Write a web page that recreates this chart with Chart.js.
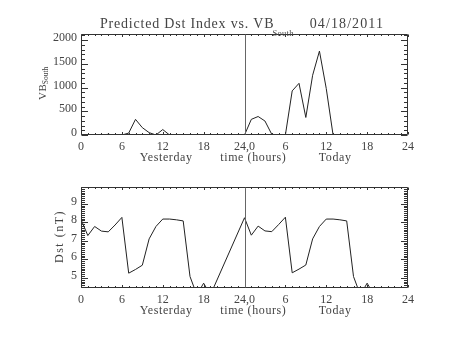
<!DOCTYPE html>
<html>
<head>
<meta charset="utf-8">
<script src="https://cdn.jsdelivr.net/npm/chart.js@4.4.0/dist/chart.umd.min.js"></script>
<style>
    html, body { margin: 0; padding: 0; background: #fff; }
    #wrap { position: relative; width: 453px; height: 340px; }
    canvas { position: absolute; left: 0; }
</style>
</head>
<body>
<div id="wrap">
    <canvas id="vb-chart" width="453" height="170" style="top:0"></canvas>
    <canvas id="dst-chart" width="453" height="170" style="top:170px"></canvas>
</div>
<script>
// Horas desde el inicio de ayer (0-24 ayer, 24-48 hoy)
const horasVB = [0, 1, 2, 3, 4, 5, 6, 7, 8, 9, 10, 11, 12, 13, 14, 15, 16, 17, 18, 19, 20, 21, 22, 23,
    24, 25, 26, 27, 28, 29, 30, 31, 32, 33, 34, 35, 36, 37];
const valoresVB = [0, 0, 0, 0, 15, 0, 0, 40, 330, 155, 50, 0, 115, 0, 0, 0, 0, 0, 0, 0, 0, 0, 0, 0,
    0, 330, 390, 295, 15, 0, 0, 930, 1090, 370, 1260, 1770, 980, 0];

const horasDst = [0, 1, 2, 3, 4, 5, 6, 7, 8, 9, 10, 11, 12, 13, 14, 15, 16, 17, 18, 19,
    24, 25, 26, 27, 28, 29, 30, 31, 32, 33, 34, 35, 36, 37, 38, 39, 40, 41, 42, 43];
const valoresDst = [8.15, 7.28, 7.77, 7.52, 7.48, 7.85, 8.26, 5.25, 5.45, 5.68, 7.1, 7.77, 8.17, 8.17, 8.13, 8.07, 5.07, 4.08, 4.71, 4.08,
    8.24, 7.3, 7.79, 7.53, 7.49, 7.87, 8.27, 5.27, 5.47, 5.69, 7.1, 7.77, 8.17, 8.17, 8.13, 8.07, 5.07, 4.08, 4.71, 4.08];

// Marcas de los ejes
const ticksX = [0, 6, 12, 18, 24, 30, 36, 42, 48];
const etiquetasX = ['0', '6', '12', '18', '24,0', '6', '12', '18', '24'];
const ticksVB = [0, 500, 1000, 1500, 2000];
const ticksDst = [5, 6, 7, 8, 9];

const FUENTE = 'Liberation Serif, DejaVu Serif, serif';
const TINTA = '#444';

// Caja cerrada con marcas hacia adentro en los cuatro lados, estilo IDL
const cajaIDL = {
    id: 'cajaIDL',
    afterDraw(chart, args, o) {
        const { ctx, chartArea: a, scales: { x, y } } = chart;
        const L = Math.round(a.left) + 0.5, R = Math.round(a.right) - 0.5;
        const T = Math.round(a.top) + 0.5, B = Math.round(a.bottom) - 0.5;
        ctx.save();
        ctx.strokeStyle = '#333';
        ctx.lineWidth = 1;
        ctx.beginPath();
        ctx.rect(L, T, R - L, B - T);

        // marcas del eje x (cada hora)
        for (let h = 0; h <= 48; h++) {
            const px = Math.round(x.getPixelForValue(h)) + 0.5;
            const len = h % 6 === 0 ? 2.5 : 1.5;
            ctx.moveTo(px, B); ctx.lineTo(px, B - len);
            ctx.moveTo(px, T); ctx.lineTo(px, T + len);
        }
        // marcas del eje y
        const n0 = Math.ceil(y.min / o.menor - 1e-6);
        const n1 = Math.floor(y.max / o.menor + 1e-6);
        for (let n = n0; n <= n1; n++) {
            const v = n * o.menor;
            const py = Math.round(y.getPixelForValue(v)) + 0.5;
            const mayor = Math.abs(v / o.mayor - Math.round(v / o.mayor)) < 1e-6;
            const len = mayor ? 6.5 : 3.5;
            ctx.moveTo(L, py); ctx.lineTo(L + len, py);
            ctx.moveTo(R, py); ctx.lineTo(R - len, py);
        }
        ctx.stroke();

        // separador entre ayer y hoy
        const p24 = Math.round(x.getPixelForValue(24)) + 0.5;
        ctx.strokeStyle = '#666';
        ctx.beginPath();
        ctx.moveTo(p24, T); ctx.lineTo(p24, B);
        ctx.stroke();

        // titulo inferior del eje x
        ctx.fillStyle = TINTA;
        ctx.font = '12px ' + FUENTE;
        ctx.textAlign = 'center';
        ctx.textBaseline = 'alphabetic';
        ctx.letterSpacing = '0.6px';
        [['Yesterday', 12.5], ['time (hours)', 25.3], ['Today', 37.3]].forEach(([txt, h]) => {
            ctx.fillText(txt, x.getPixelForValue(h), o.baseX);
        });

        if (o.textos) o.textos(ctx, a);
        ctx.restore();
    }
};

function opciones(yMin, yMax, yTicks, arriba, pie, caja) {
    return {
        responsive: false,
        animation: false,
        events: [],
        layout: { padding: { top: arriba, right: 45, left: 0, bottom: 0 } },
        plugins: {
            legend: { display: false },
            tooltip: { enabled: false },
            cajaIDL: caja
        },
        scales: {
            x: {
                type: 'linear',
                min: 0,
                max: 48,
                afterBuildTicks: s => { s.ticks = ticksX.map(v => ({ value: v })); },
                afterFit: s => { s.height = pie; },
                grid: { display: false, drawTicks: false },
                border: { display: false },
                ticks: {
                    autoSkip: false,
                    maxRotation: 0,
                    padding: 5,
                    color: TINTA,
                    font: { family: FUENTE, size: 12 },
                    callback: v => etiquetasX[ticksX.indexOf(v)]
                }
            },
            y: {
                type: 'linear',
                min: yMin,
                max: yMax,
                afterBuildTicks: s => { s.ticks = yTicks.map(v => ({ value: v })); },
                afterFit: s => { s.width = 81; },
                grid: { display: false, drawTicks: false },
                border: { display: false },
                ticks: {
                    padding: 4,
                    labelOffset: -2,
                    color: TINTA,
                    font: { family: FUENTE, size: 12 },
                    callback: v => String(v)
                }
            }
        }
    };
}

function serie(horas, valores) {
    return {
        data: horas.map((h, i) => ({ x: h, y: valores[i] })),
        borderColor: '#222',
        borderWidth: 1,
        pointRadius: 0,
        tension: 0,
        fill: false
    };
}

// Grafico superior: VB sur
new Chart(document.getElementById('vb-chart').getContext('2d'), {
    type: 'line',
    data: { datasets: [serie(horasVB, valoresVB)] },
    plugins: [cajaIDL],
    options: opciones(0, 2130, ticksVB, 34, 35, {
        menor: 100,
        mayor: 500,
        baseX: 160.5,
        textos(ctx) {
            ctx.textAlign = 'left';
            ctx.font = '14px ' + FUENTE;
            ctx.letterSpacing = '0.8px';
            const principal = 'Predicted Dst Index vs. VB';
            ctx.fillText(principal, 100, 28);
            const w = ctx.measureText(principal).width;
            ctx.font = '8.5px ' + FUENTE;
            ctx.letterSpacing = '0.3px';
            ctx.fillText('South', 100 + w - 2, 35.5);
            ctx.font = '14px ' + FUENTE;
            ctx.letterSpacing = '1.1px';
            ctx.textAlign = 'right';
            ctx.fillText('04/18/2011', 384, 28);

            // etiqueta vertical VB con subindice
            ctx.save();
            ctx.translate(45.5, 100);
            ctx.rotate(-Math.PI / 2);
            ctx.textAlign = 'left';
            ctx.font = '11px ' + FUENTE;
            ctx.letterSpacing = '0.5px';
            ctx.fillText('VB', 0, 0);
            const wv = ctx.measureText('VB').width;
            ctx.font = '7.5px ' + FUENTE;
            ctx.letterSpacing = '0px';
            ctx.fillText('South', wv - 0.5, 2.5);
            ctx.restore();
        }
    })
});

// Grafico inferior: indice Dst
new Chart(document.getElementById('dst-chart').getContext('2d'), {
    type: 'line',
    data: { datasets: [serie(horasDst, valoresDst)] },
    plugins: [cajaIDL],
    options: opciones(4.45, 9.9, ticksDst, 17, 52, {
        menor: 0.1,
        mayor: 1,
        baseX: 144,
        textos(ctx) {
            ctx.save();
            ctx.translate(63, 236.5 - 170);
            ctx.rotate(-Math.PI / 2);
            ctx.textAlign = 'center';
            ctx.font = '12px ' + FUENTE;
            ctx.letterSpacing = '1.5px';
            ctx.fillText('Dst (nT)', 0, 0);
            ctx.restore();
        }
    })
});
</script>
</body>
</html>
